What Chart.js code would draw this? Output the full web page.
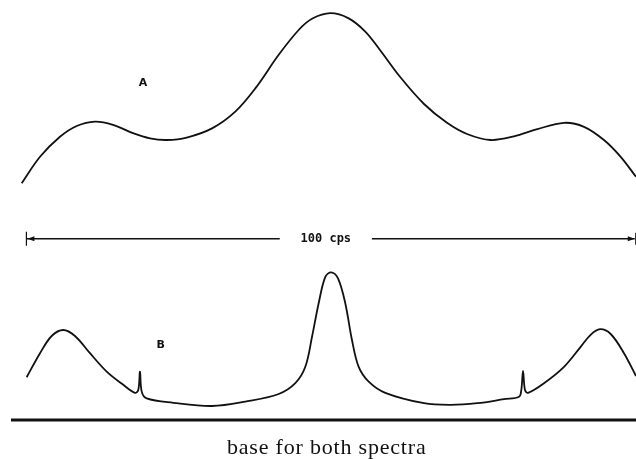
<!DOCTYPE html>
<html>
<head>
<meta charset="utf-8">
<script src="https://cdn.jsdelivr.net/npm/chart.js@4.4.0/dist/chart.umd.min.js"></script>
<style>
  html, body { margin: 0; padding: 0; background: #fff; }
  #wrap { width: 636px; height: 459px; }
</style>
</head>
<body>
<div id="wrap"><canvas id="nmrChart" width="636" height="459"></canvas></div>
<script>
// frequency in cps (0 = left end of the 100 cps bar), intensity in arbitrary units above the base line
const spectrumA_x = [-0.7, 2.3, 5.57, 8.31, 11.31, 14.26, 17.54, 20.33, 23.07, 26.34, 30.49, 34.31, 37.59, 41.43,
  44.7, 46.89, 49.89, 52.9, 55.62, 58.03, 61.31, 65.25, 69.02, 72.3, 76.18, 80.0, 83.82, 88.2, 91.48, 94.75, 97.49, 100];
const spectrumA_y = [59.2, 65.8, 70.8, 73.5, 74.6, 73.8, 71.7, 70.4, 70.0, 70.6, 72.9, 77.1, 82.9, 91.3,
  97.5, 100.3, 101.7, 100.4, 97.1, 92.5, 85.8, 79.0, 74.3, 71.5, 70.0, 70.9, 72.7, 74.3, 73.3, 70.0, 65.8, 60.8];

const spectrumB_x = [0.11, 2.3, 4.21, 6.11, 8.03, 10.49, 13.23, 15.95, 17.87, 18.41, 18.69, 18.97, 19.79, 24.15,
  30.49, 35.95, 41.43, 44.15, 45.79, 46.89, 47.98, 49.07, 50.05, 51.15, 52.34, 53.44, 54.54, 56.18, 58.9,
  65.25, 69.62, 73.98, 78.36, 80.82, 81.2, 81.48, 81.8, 82.3, 84.92, 88.2, 90.93, 92.56, 94.1, 95.85, 98.03, 100];
const spectrumB_y = [10.7, 16.7, 21.0, 22.5, 21.0, 16.7, 12.1, 8.8, 6.8, 7.5, 12.1, 7.1, 5.4, 4.3,
  3.5, 4.6, 6.5, 9.2, 13.3, 20.8, 29.2, 35.8, 36.9, 35.4, 29.2, 20.0, 13.3, 9.6, 6.8,
  4.2, 3.8, 4.2, 5.2, 5.8, 7.5, 12.3, 7.5, 6.8, 9.2, 13.3, 18.3, 21.3, 22.7, 21.5, 16.7, 11.0];

const baseLine_x = [-2.46, 100];
const scaleBar_y = 45.3;
const scaleBarLeft_x = [0.07, 41.6];
const scaleBarRight_x = [56.7, 99.8];
const scaleBarLabel = '100 cps';
const curveLabels = [
  { text: 'A', x: 19.2, y: 84.2 },
  { text: 'B', x: 22.1, y: 18.7 }
];
const footnote = 'base for both spectra';

function toPoints(xs, ys) {
  return xs.map((x, i) => ({ x: x, y: Array.isArray(ys) ? ys[i] : ys }));
}

const lineStyle = {
  borderColor: '#111',
  borderWidth: 1.8,
  pointRadius: 0,
  fill: false,
  tension: 0.35
};

// arrows, ticks and text on top of the chart
const annotate = {
  id: 'annotate',
  afterDatasetsDraw(chart) {
    const ctx = chart.ctx;
    const xs = chart.scales.x;
    const ys = chart.scales.y;
    const by = ys.getPixelForValue(scaleBar_y);
    const lx = xs.getPixelForValue(scaleBarLeft_x[0]);
    const rx = xs.getPixelForValue(scaleBarRight_x[1]);

    ctx.save();
    ctx.strokeStyle = '#111';
    ctx.fillStyle = '#111';
    ctx.lineWidth = 1.2;
    // end ticks
    ctx.beginPath();
    ctx.moveTo(lx, by - 7); ctx.lineTo(lx, by + 7);
    ctx.moveTo(rx + 1, by - 6); ctx.lineTo(rx + 1, by + 6);
    ctx.stroke();
    // arrow heads
    ctx.beginPath();
    ctx.moveTo(lx + 1, by); ctx.lineTo(lx + 8, by - 2.5); ctx.lineTo(lx + 8, by + 2.5); ctx.closePath();
    ctx.moveTo(rx, by); ctx.lineTo(rx - 7, by - 2.5); ctx.lineTo(rx - 7, by + 2.5); ctx.closePath();
    ctx.fill();

    ctx.textAlign = 'center';
    ctx.textBaseline = 'middle';
    ctx.font = 'bold 12px "DejaVu Sans Mono"';
    const mid = (scaleBarLeft_x[1] + scaleBarRight_x[0]) / 2;
    ctx.fillText(scaleBarLabel, xs.getPixelForValue(mid), by);

    ctx.font = 'bold 11px "DejaVu Sans"';
    curveLabels.forEach(l => {
      ctx.fillText(l.text, xs.getPixelForValue(l.x), ys.getPixelForValue(l.y));
    });

    ctx.font = '22px "Liberation Serif"';
    ctx.letterSpacing = '0.8px';
    ctx.textBaseline = 'alphabetic';
    ctx.fillText(footnote, xs.getPixelForValue(49.3), ys.getPixelForValue(-8.5));
    ctx.restore();
  }
};

new Chart(document.getElementById('nmrChart'), {
  type: 'line',
  data: {
    datasets: [
      Object.assign({ label: 'A', data: toPoints(spectrumA_x, spectrumA_y) }, lineStyle),
      Object.assign({ label: 'B', data: toPoints(spectrumB_x, spectrumB_y) }, lineStyle),
      { label: 'base', data: toPoints(baseLine_x, 0), borderColor: '#111', borderWidth: 3, pointRadius: 0 },
      { label: 'bar left', data: toPoints(scaleBarLeft_x, scaleBar_y), borderColor: '#111', borderWidth: 1.4, pointRadius: 0 },
      { label: 'bar right', data: toPoints(scaleBarRight_x, scaleBar_y), borderColor: '#111', borderWidth: 1.4, pointRadius: 0 }
    ]
  },
  options: {
    responsive: false,
    animation: false,
    events: [],
    layout: { padding: 0 },
    scales: {
      x: { type: 'linear', display: false, min: -4.26, max: 100 },
      y: { type: 'linear', display: false, min: -9.75, max: 105 }
    },
    plugins: {
      legend: { display: false },
      tooltip: { enabled: false }
    }
  },
  plugins: [annotate]
});
</script>
</body>
</html>
